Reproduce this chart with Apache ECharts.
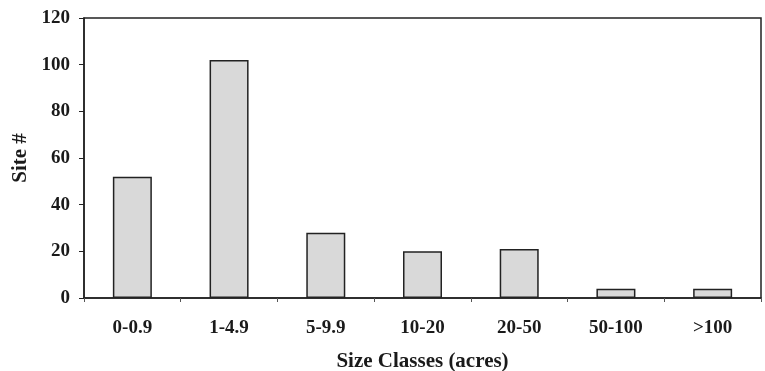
<!DOCTYPE html>
<html><head><meta charset="utf-8">
<script src="https://cdn.jsdelivr.net/npm/echarts@6/dist/echarts.min.js"></script>
<style>html,body{margin:0;padding:0;background:#fff}#c{width:765px;height:371px}</style>
</head><body><div id="c"></div>
<script>
const categories = ['0-0.9','1-4.9','5-9.9','10-20','20-50','50-100','>100'];
const siteCounts = [52,102,28,20,21,4,4];
const yTicks = [0,20,40,60,80,100,120];

const font = '"Liberation Serif","Times New Roman",serif';
const chart = echarts.init(document.getElementById('c'));
chart.setOption({
  animation:false,
  backgroundColor:'#fff',
  grid:{left:84,right:4,top:18,bottom:73,show:true,borderColor:'#222',borderWidth:1.5,containLabel:false,outerBoundsMode:'none'},
  xAxis:{type:'category',data:categories,
    name:'Size Classes (acres)',nameLocation:'middle',nameGap:53,
    nameTextStyle:{fontFamily:font,fontWeight:'bold',fontSize:21,color:'#1a1a1a'},
    axisLine:{lineStyle:{color:'#222',width:1.5}},
    axisTick:{show:true,length:4,lineStyle:{color:'#555'}},
    axisLabel:{fontFamily:font,fontWeight:'bold',fontSize:19,color:'#1a1a1a',margin:21}},
  yAxis:{type:'value',min:yTicks[0],max:yTicks[yTicks.length-1],interval:20,
    name:'Site #',nameLocation:'middle',nameGap:53,nameRotate:90,
    nameTextStyle:{fontFamily:font,fontWeight:'bold',fontSize:21,color:'#1a1a1a'},
    splitLine:{show:false},
    axisLine:{show:true,lineStyle:{color:'#222',width:1.5}},
    axisTick:{show:true,length:5,lineStyle:{color:'#222'}},
    axisLabel:{fontFamily:font,fontWeight:'bold',fontSize:19,color:'#1a1a1a',margin:14}},
  series:[{type:'bar',data:siteCounts,barWidth:39,
    itemStyle:{color:'#d9d9d9',borderColor:'#222',borderWidth:1.5}}]
});
</script></body></html>
